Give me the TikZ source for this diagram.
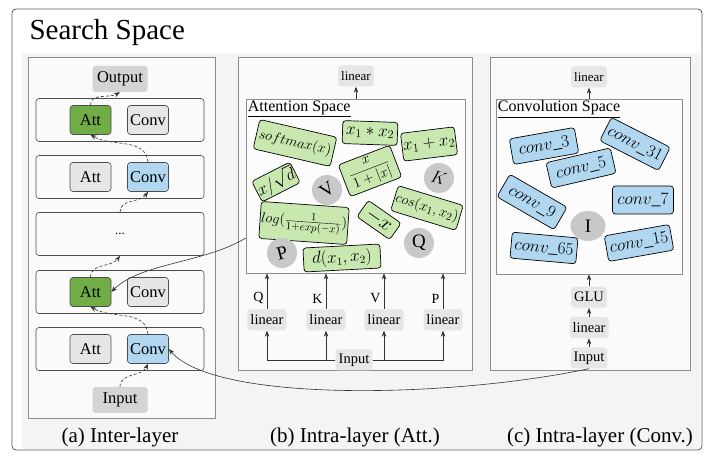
\documentclass[tikz,border=0pt]{standalone}
\usepackage{fontspec}
\setmainfont{Liberation Serif}
\usetikzlibrary{positioning, arrows.meta, shapes.geometric}

\definecolor{attgreen}{RGB}{112,173,71}
\definecolor{convblue}{RGB}{176,214,240}
\definecolor{formgreen}{RGB}{200,232,176}
\definecolor{iogray}{RGB}{212,212,212}
\definecolor{lingray}{RGB}{230,230,230}
\definecolor{tokgray}{RGB}{200,200,200}
\definecolor{bggray}{RGB}{244,244,244}

\tikzset{
  panel/.style={draw=black!45, fill=black!2, line width=0.6pt},
  spacebox/.style={draw=black!45, fill=black!1, inner sep=0pt, line width=0.6pt},
  layerbox/.style={draw=black!70, rounded corners=3pt, fill=black!2, minimum width=168pt, minimum height=43pt, line width=0.6pt},
  opnode/.style={draw=black!70, rounded corners=3pt, minimum width=41pt, minimum height=29pt, inner sep=0pt, font=\fontsize{16.5}{18}\selectfont, line width=0.6pt},
  ionode/.style={fill=iogray, rounded corners=3pt, minimum width=55pt, minimum height=26pt, inner sep=0pt, font=\fontsize{16.5}{18}\selectfont},
  lin/.style={fill=lingray, rounded corners=3pt, inner sep=3pt, minimum height=21pt, font=\fontsize{14.5}{16}\selectfont},
  formbox/.style={draw, fill=formgreen, rounded corners=3pt, inner sep=1pt, font=\fontsize{15}{17}\selectfont, line width=0.7pt},
  convbox/.style={draw, fill=convblue, rounded corners=3pt, minimum width=66pt, minimum height=26pt, inner sep=1pt, font=\fontsize{18}{20}\selectfont, line width=0.7pt},
  token/.style={circle, fill=tokgray, minimum size=30pt, inner sep=0pt, font=\fontsize{19}{20}\selectfont},
  link/.style={-{Stealth[length=6pt,width=4.5pt]}, line width=0.6pt, draw=black!80},
  hop/.style={link, dash pattern=on 3pt off 2pt},
  spacelabel/.style={anchor=north west, inner sep=2pt, font=\fontsize{16}{18}\selectfont},
  caption/.style={font=\fontsize{21}{24}\selectfont}
}

\begin{document}
\begin{tikzpicture}[x=1pt, y=1pt]
\useasboundingbox (0,0) rectangle (710,463);

% frame and background
\draw[draw=black!65, fill=white, rounded corners=4pt, line width=0.8pt] (12,454) rectangle (702,13);
\fill[bggray, rounded corners=2pt] (22,410) rectangle (700,14);
\node[anchor=base west, font=\fontsize{29}{32}\selectfont] (title) at (26,423) {Search Space};

% (a) inter-layer
\draw[panel] (28,406) rectangle (215,45);
\node[layerbox] (row1) at (120,343) {};
\node[layerbox] (row2) at (120,286) {};
\node[layerbox, font=\fontsize{13}{15}\selectfont] (row3) at (120,229) {...};
\node[layerbox] (row4) at (120,171) {};
\node[layerbox] (row5) at (120,114) {};
\node[opnode, fill=attgreen] (att1) at (90.5,343) {Att};
\node[opnode, fill=lingray] (conv1) at (148,343) {Conv};
\node[opnode, fill=lingray] (att2) at (90.5,286) {Att};
\node[opnode, fill=convblue] (conv2) at (148,286) {Conv};
\node[opnode, fill=attgreen] (att4) at (90.5,171) {Att};
\node[opnode, fill=lingray] (conv4) at (148,171) {Conv};
\node[opnode, fill=lingray] (att5) at (90.5,114) {Att};
\node[opnode, fill=convblue] (conv5) at (148,114) {Conv};
\node[ionode] (outp) at (120,384) {Output};
\node[ionode] (inp) at (120,63) {Input};

\draw[hop] (inp.north) to[out=90, in=-115] (conv5.south);
\draw[hop] (conv5.north) to[out=95, in=-30] (att4.south);
\draw[hop] (att4.north) to[out=90, in=-125] (row3.south);
\draw[hop] (row3.north) to[out=90, in=-125] (conv2.south);
\draw[hop] (conv2.north) to[out=95, in=-30] (att1.south);
\draw[hop] (att1.north) to[out=90, in=-150] (outp.south);

\node[caption] (capa) at (120,26) {(a) Inter-layer};

% (b) intra-layer, attention
\draw[panel] (238,406) rectangle (472,93);
\node[lin, font=\fontsize{13}{15}\selectfont] (blin) at (356,387) {linear};
\node[spacebox, minimum width=219pt, minimum height=174pt] (attspace) at (355.5,277) {};
\node[spacelabel] (attlabel) at (attspace.north west) {\underline{Attention Space}};
\draw[link] (blin.south |- attspace.north) -- (blin.south);

\node[formbox, minimum width=79pt, minimum height=30pt, rotate=-13, font=\fontsize{15.5}{17}\selectfont] (fsoft) at (295,320) {$softmax(x)$};
\node[formbox, minimum width=55pt, minimum height=23pt, rotate=-2, font=\fontsize{18}{20}\selectfont] (fmul) at (370,330) {$x_1 * x_2$};
\node[formbox, minimum width=53pt, minimum height=28pt, rotate=7, font=\fontsize{18}{20}\selectfont] (fadd) at (429,319) {$x_1 + x_2$};
\node[formbox, minimum width=55pt, minimum height=34pt, rotate=21, font=\fontsize{14}{16}\selectfont] (fsign) at (370,292) {$\displaystyle\frac{x}{1+|x|}$};
\node[formbox, minimum width=40pt, minimum height=23pt, rotate=27, font=\fontsize{17}{19}\selectfont] (fsqrt) at (276,281) {$x/\sqrt{d}$};
\node[formbox, minimum width=68pt, minimum height=26pt, rotate=-17, font=\fontsize{15.5}{17}\selectfont] (fcos) at (427,255) {$cos(x_1,x_2)$};
\node[formbox, minimum width=85pt, minimum height=37pt, rotate=-4] (flog) at (304,240) {$log(\frac{1}{1+exp(-x)})$};
\node[formbox, minimum width=40pt, minimum height=20pt, rotate=-35, font=\fontsize{20}{22}\selectfont] (fneg) at (379,243) {$-x$};
\node[formbox, minimum width=77pt, minimum height=24pt, rotate=3, font=\fontsize{16}{18}\selectfont] (fdist) at (342,205) {$d(x_1,x_2)$};
\node[token, rotate=35] (tv) at (327,273) {V};
\node[token, rotate=-15] (tk) at (439,285) {$K$};
\node[token] (tq) at (419,220) {Q};
\node[token, rotate=15] (tp) at (282,210) {P};

\node[lin] (lq) at (267,143) {linear};
\node[lin] (lk) at (326,143) {linear};
\node[lin] (lv) at (384,143) {linear};
\node[lin] (lp) at (443,143) {linear};
\node[lin] (bin) at (354,103) {Input};
\draw[link] (bin.west) -| (lq.south);
\draw[link] (bin.west) -| (lk.south);
\draw[link] (bin.east) -| (lv.south);
\draw[link] (bin.east) -| (lp.south);
\draw[link] (lq.north) -- node[left, pos=0.3, font=\fontsize{14}{16}\selectfont] {Q} (lq.north |- attspace.south);
\draw[link] (lk.north) -- node[left, pos=0.3, font=\fontsize{14}{16}\selectfont] {K} (lk.north |- attspace.south);
\draw[link] (lv.north) -- node[left, pos=0.3, font=\fontsize{14}{16}\selectfont] {V} (lv.north |- attspace.south);
\draw[link] (lp.north) -- node[left, pos=0.3, font=\fontsize{14}{16}\selectfont] {P} (lp.north |- attspace.south);

\node[caption] (capb) at (355,26) {(b) Intra-layer (Att.)};

% (c) intra-layer, convolution
\draw[panel] (490,406) rectangle (690,93);
\node[lin, font=\fontsize{13}{15}\selectfont] (clin) at (589,386) {linear};
\node[spacebox, minimum width=186pt, minimum height=175pt] (convspace) at (589,276.5) {};
\node[spacelabel] (convlabel) at (convspace.north west) {\underline{Convolution Space}};
\draw[link] (convspace.north) -- (clin.south);

\node[convbox, rotate=10] (k3) at (544,317) {$conv\_3$};
\node[convbox, rotate=-27] (k31) at (635,319) {$conv\_31$};
\node[convbox, rotate=13] (k5) at (581,295) {$conv\_5$};
\node[convbox, rotate=-30] (k9) at (532,261) {$conv\_9$};
\node[convbox, minimum width=61pt, minimum height=28pt] (k7) at (643,263) {$conv\_7$};
\node[convbox, rotate=-5] (k65) at (544,215) {$conv\_65$};
\node[convbox, rotate=10] (k15) at (639,220) {$conv\_15$};
\node[ellipse, fill=tokgray, minimum width=35pt, minimum height=30pt, inner sep=0pt, font=\fontsize{19}{20}\selectfont] (ti) at (588,237) {I};

\node[lin] (cin) at (589,105) {Input};
\node[lin, above=9pt of cin] (cmid) {linear};
\node[lin, above=9pt of cmid] (glu) {GLU};
\draw[link] (cin) -- (cmid);
\draw[link] (cmid) -- (glu);
\draw[link] (glu.north) -- (glu.north |- convspace.south);

\node[caption] (capc) at (600,26) {(c) Intra-layer (Conv.)};

% links between panels
\draw[link] ([yshift=-52pt]attspace.west) .. controls (205,200) and (140,200) .. (att4.east);
\draw[link] (cin.south) .. controls (450,65) and (215,60) .. (conv5.east);

\end{tikzpicture}
\end{document}
